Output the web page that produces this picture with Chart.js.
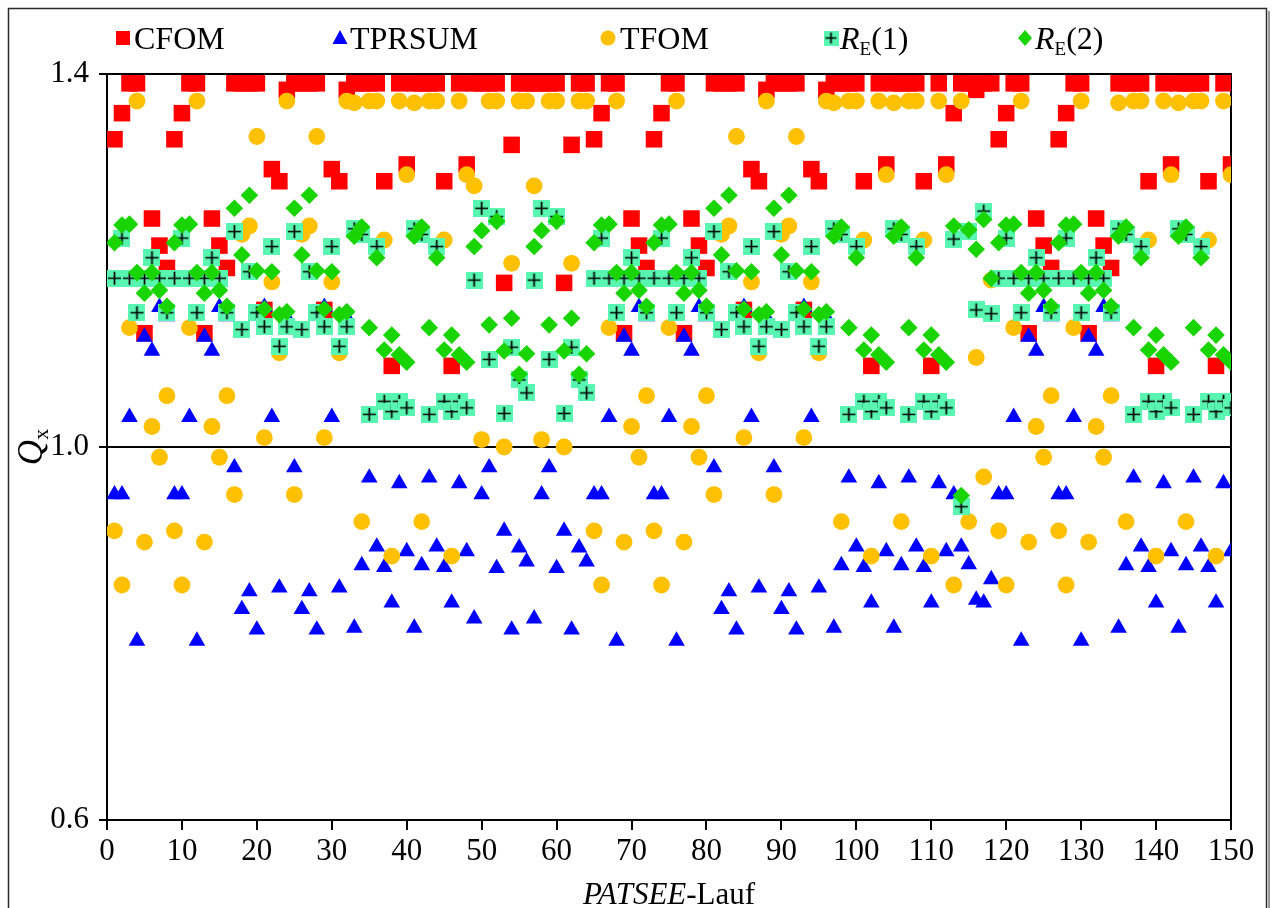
<!DOCTYPE html>
<html>
<head>
<meta charset="utf-8">
<script src="https://cdn.jsdelivr.net/npm/chart.js@4.4.1/dist/chart.umd.min.js"></script>
<style>
  html, body { margin: 0; padding: 0; background: #fff; }
  #wrap { position: relative; width: 1272px; height: 908px; }
</style>
</head>
<body>
<div id="wrap"><canvas id="qx-chart" width="1272" height="908"></canvas></div>
<script>
// order of the 8-run blocks along the PATSEE runs (X = the odd 6-run group 113-118)
const runBlocks = ['B1', 'B1', 'B2', 'B2', 'B3', 'B3', 'B4', 'B4',
                   'B1', 'B1', 'B2', 'B2', 'B3', 'B3', 'X',
                   'B1', 'B1', 'B3', 'B3'];

const cfom = {
    B1: [1.330, 1.358, 1.390, 1.390, 1.122, 1.245, 1.216, 1.192],
    B2: [1.390, 1.390, 1.390, 1.390, 1.147, 1.298, 1.285, 1.383],
    B3: [1.390, 1.390, 1.390, 1.390, 1.285, 1.087, 1.390, 1.303],
    B4: [1.390, 1.390, 1.390, 1.390, 1.176, 1.324, 1.390, 1.390],
    X:  [1.358, 1.390, 1.390, 1.383, 1.390, 1.390]
};
const tprsum = {
    B1: [0.949, 0.949, 1.032, 0.792, 1.118, 1.103, 1.150, 1.140],
    B2: [0.978, 0.826, 0.845, 0.804, 1.150, 1.032, 0.849, 1.139],
    B3: [0.806, 0.873, 0.967, 0.893, 0.871, 0.833, 0.961, 0.888],
    B4: [0.816, 0.949, 0.978, 0.870, 0.910, 0.804, 0.892, 0.877],
    X:  [0.949, 0.893, 0.874, 0.836, 0.833, 0.858]
};
const tfom = {
    B1: [0.910, 0.852, 1.128, 1.371, 0.898, 1.022, 0.989, 1.055],
    B2: [0.949, 1.228, 1.237, 1.333, 1.010, 1.177, 1.101, 1.371],
    B3: [1.369, 0.920, 1.371, 1.371, 1.222, 0.883, 1.371, 1.292],
    B4: [1.280, 1.008, 1.371, 1.371, 1.000, 1.197, 1.371, 1.371],
    X:  [0.852, 1.371, 0.920, 1.096, 0.968, 1.179]
};
const re1 = {
    B1: [1.181, 1.224, 1.181, 1.144, 1.181, 1.203, 1.181, 1.144],
    B2: [1.231, 1.126, 1.188, 1.144, 1.129, 1.215, 1.108, 1.129],
    B3: [1.234, 1.228, 1.035, 1.215, 1.049, 1.038, 1.049, 1.042],
    B4: [1.179, 1.256, 1.094, 1.247, 1.036, 1.107, 1.072, 1.058],
    X:  [1.223, 0.936, 1.231, 1.147, 1.253, 1.143]
};
const re2 = {
    B1: [1.219, 1.238, 1.239, 1.187, 1.165, 1.187, 1.168, 1.151],
    B2: [1.256, 1.206, 1.270, 1.189, 1.148, 1.188, 1.142, 1.145],
    B3: [1.226, 1.236, 1.128, 1.203, 1.104, 1.120, 1.099, 1.091],
    B4: [1.215, 1.232, 1.131, 1.242, 1.103, 1.138, 1.078, 1.100],
    X:  [1.237, 0.948, 1.233, 1.212, 1.244, 1.181]
};

const yTicks = [0.6, 1.0, 1.4];
const xTicks = [0, 10, 20, 30, 40, 50, 60, 70, 80, 90, 100, 110, 120, 130, 140, 150];

const FONT = '"Liberation Serif", "Times New Roman", serif';
const RED = '#ff0000', BLUE = '#0000ff', ORANGE = '#ffc000', TEAL = '#58f6b0', GREEN = '#18d400';

function buildSeries(table) {
    const vals = [];
    runBlocks.forEach(b => vals.push(...table[b]));
    return vals.map((v, i) => ({ x: i + 1, y: v }));
}

// teal square with black cross, for R_E(1)
function crossSquare(size) {
    const c = document.createElement('canvas');
    c.width = size; c.height = size;
    const g = c.getContext('2d');
    g.fillStyle = TEAL;
    g.fillRect(0, 0, size, size);
    g.strokeStyle = '#000';
    g.lineWidth = 1.7;
    g.beginPath();
    g.moveTo(2, size / 2); g.lineTo(size - 2, size / 2);
    g.moveTo(size / 2, 2); g.lineTo(size / 2, size - 2);
    g.stroke();
    return c;
}
const re1Marker = crossSquare(17);
const re1Legend = crossSquare(15);

function drawMarker(ctx, kind, x, y) {
    ctx.save();
    ctx.beginPath();
    if (kind === 'rect') {
        ctx.fillStyle = RED;
        ctx.fillRect(x - 7, y - 7, 14, 14);
    } else if (kind === 'triangle') {
        ctx.fillStyle = BLUE;
        ctx.moveTo(x, y - 8); ctx.lineTo(x + 7.5, y + 6); ctx.lineTo(x - 7.5, y + 6);
        ctx.closePath(); ctx.fill();
    } else if (kind === 'circle') {
        ctx.fillStyle = ORANGE;
        ctx.arc(x, y, 7.5, 0, Math.PI * 2); ctx.fill();
    } else if (kind === 'cross') {
        ctx.drawImage(re1Legend, x - 7.5, y - 7.5);
    } else {
        ctx.fillStyle = GREEN;
        ctx.moveTo(x, y - 8); ctx.lineTo(x + 7, y); ctx.lineTo(x, y + 8); ctx.lineTo(x - 7, y);
        ctx.closePath(); ctx.fill();
    }
    ctx.restore();
}

// draws runs of text pieces: [text, italic, size, baselineShift]
function drawPieces(ctx, pieces, x, y) {
    pieces.forEach(p => {
        ctx.font = (p[1] ? 'italic ' : '') + p[2] + 'px ' + FONT;
        ctx.fillText(p[0], x, y + (p[3] || 0));
        x += ctx.measureText(p[0]).width;
    });
    return x;
}
function piecesWidth(ctx, pieces) {
    let w = 0;
    pieces.forEach(p => {
        ctx.font = (p[1] ? 'italic ' : '') + p[2] + 'px ' + FONT;
        w += ctx.measureText(p[0]).width;
    });
    return w;
}

const legendItems = [
    { kind: 'rect', mx: 123, tx: 134, text: [['CFOM', false, 32]] },
    { kind: 'triangle', mx: 340, tx: 350, text: [['TPRSUM', false, 32]] },
    { kind: 'circle', mx: 608, tx: 620, text: [['TFOM', false, 32]] },
    { kind: 'cross', mx: 831, tx: 840, text: [['R', true, 32], ['E', false, 19, 6], ['(1)', false, 32]] },
    { kind: 'diamond', mx: 1025, tx: 1035, text: [['R', true, 32], ['E', false, 19, 6], ['(2)', false, 32]] }
];

const decorPlugin = {
    id: 'decor',
    beforeDatasetsDraw(chart) {
        const { ctx, chartArea: a } = chart;
        ctx.save();
        ctx.strokeStyle = '#000';
        ctx.lineWidth = 2;
        ctx.strokeRect(a.left, a.top, a.right - a.left, a.bottom - a.top);
        ctx.restore();
    },
    afterDraw(chart) {
        const { ctx, chartArea: a } = chart;
        ctx.save();
        // outer frame
        ctx.strokeStyle = '#2a2a2a';
        ctx.lineWidth = 1.5;
        ctx.strokeRect(8.5, 8.5, 1258, 915);
        ctx.strokeStyle = '#9a9a9a';
        ctx.lineWidth = 2;
        ctx.beginPath(); ctx.moveTo(1269, 11); ctx.lineTo(1269, 908); ctx.stroke();

        // legend
        ctx.fillStyle = '#000';
        ctx.textBaseline = 'alphabetic';
        legendItems.forEach(it => {
            drawMarker(ctx, it.kind, it.mx, 38);
            drawPieces(ctx, it.text, it.tx, 49);
        });

        // x title
        const xt = [['PATSEE', true, 31], ['-Lauf', false, 31]];
        const xw = piecesWidth(ctx, xt);
        drawPieces(ctx, xt, (a.left + a.right) / 2 - xw / 2, 904);

        // y title (rotated)
        const yt = [['Q', true, 35], ['x', false, 22, 6]];
        const yw = piecesWidth(ctx, yt);
        ctx.translate(42, (a.top + a.bottom) / 2);
        ctx.rotate(-Math.PI / 2);
        drawPieces(ctx, yt, -yw / 2, 0);
        ctx.restore();
    }
};

const ctx = document.getElementById('qx-chart').getContext('2d');

new Chart(ctx, {
    type: 'scatter',
    data: {
        datasets: [
            { label: 'CFOM', data: buildSeries(cfom), pointStyle: 'rect', pointRadius: 11.7,
              backgroundColor: RED, borderWidth: 0, order: 5 },
            { label: 'TPRSUM', data: buildSeries(tprsum), pointStyle: 'triangle', pointRadius: 9.6,
              backgroundColor: BLUE, borderWidth: 0, order: 4 },
            { label: 'TFOM', data: buildSeries(tfom), pointStyle: 'circle', pointRadius: 8.4,
              backgroundColor: ORANGE, borderWidth: 0, order: 3 },
            { label: 'RE(1)', data: buildSeries(re1), pointStyle: re1Marker, pointRadius: 8.5,
              backgroundColor: TEAL, borderWidth: 0, order: 2 },
            { label: 'RE(2)', data: buildSeries(re2), pointStyle: 'rectRot', pointRadius: 8.8,
              backgroundColor: GREEN, borderWidth: 0, order: 1 }
        ]
    },
    options: {
        responsive: false,
        animation: false,
        devicePixelRatio: 1,
        layout: { padding: { left: 0, top: 74, right: 41, bottom: 0 } },
        plugins: {
            legend: { display: false },
            tooltip: { enabled: false }
        },
        scales: {
            x: {
                type: 'linear',
                min: 0,
                max: 150,
                afterBuildTicks: s => { s.ticks = xTicks.map(v => ({ value: v })); },
                afterFit: s => { s.height = 88; },
                ticks: {
                    color: '#000',
                    font: { family: FONT, size: 31 },
                    padding: 3,
                    maxRotation: 0,
                    autoSkip: false
                },
                grid: { drawOnChartArea: false, drawTicks: true, tickLength: 10, color: '#000', lineWidth: 2 },
                border: { display: true, color: '#000', width: 2 }
            },
            y: {
                min: 0.6,
                max: 1.4,
                afterBuildTicks: s => { s.ticks = yTicks.map(v => ({ value: v })); },
                afterFit: s => { s.width = 107; },
                ticks: {
                    color: '#000',
                    font: { family: FONT, size: 31 },
                    padding: 10,
                    callback: v => v.toFixed(1)
                },
                grid: { color: '#000', lineWidth: 2, tickLength: 8 },
                border: { display: true, color: '#000', width: 2 }
            }
        }
    },
    plugins: [decorPlugin]
});
</script>
</body>
</html>
